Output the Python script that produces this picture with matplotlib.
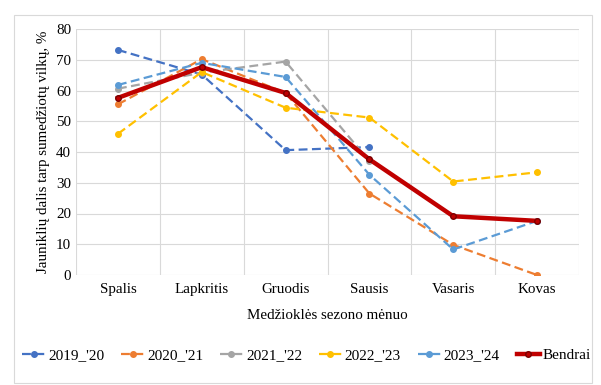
import numpy as np
import matplotlib.pyplot as plt
from matplotlib.patches import Rectangle

months = ["Spalis", "Lapkritis", "Gruodis", "Sausis", "Vasaris", "Kovas"]

s2019 = [73.2, 65.2, 40.6, 41.6, np.nan, np.nan]
s2020 = [55.5, 70.2, 59.2, 26.5, 9.8, 0.0]
s2021 = [60.6, 65.8, 69.4, 37.0, np.nan, np.nan]
s2022 = [45.9, 66.0, 54.4, 51.2, 30.4, 33.4]
s2023 = [61.8, 69.0, 64.4, 32.6, 8.3, 17.6]
bendrai = [57.6, 67.6, 59.2, 37.6, 19.1, 17.6]

series = [("2019_'20", s2019, "#4472C4"),
          ("2020_'21", s2020, "#ED7D31"),
          ("2021_'22", s2021, "#A5A5A5"),
          ("2022_'23", s2022, "#FFC000"),
          ("2023_'24", s2023, "#5B9BD5")]

plt.rcParams['font.family'] = ['Liberation Serif', 'DejaVu Serif']

fig = plt.figure(figsize=(6.01, 3.85), dpi=100)
ax = fig.add_axes([76/601, 1 - 275/385, (579 - 76)/601, (275 - 29)/385])

x = np.arange(len(months))
for name, vals, col in series:
    ax.plot(x, vals, color=col, lw=1.6, dashes=(4, 2), marker='o',
            markersize=4, label=name, zorder=3)
ax.plot(x, bendrai, color="#C00000", lw=3.2, marker='o', markersize=4,
        markeredgecolor="#7a0000", label="Bendrai", zorder=5)

ax.set_xlim(-0.5, len(months) - 0.5)
ax.set_ylim(0, 80)
ax.set_yticks(range(0, 81, 10))
ax.set_xticks(x)
ax.set_xticklabels(months)
ax.set_xticks(np.arange(-0.5, len(months)), minor=True)
ax.grid(True, which='major', axis='y', color='#d9d9d9', lw=0.8)
ax.grid(True, which='minor', axis='x', color='#d9d9d9', lw=0.8)
ax.tick_params(which='both', length=0, labelsize=10.8, colors='black')
ax.tick_params(axis='x', pad=6)
for sp in ax.spines.values():
    sp.set_visible(False)
ax.set_axisbelow(True)

ax.set_ylabel("Jauniklių dalis tarp sumedžiotų vilkų, %", fontsize=10.8)
ax.set_xlabel("Medžioklės sezono mėnuo", fontsize=10.8, labelpad=9)

fig.legend(loc='center', bbox_to_anchor=(0.51, 1 - 355/385), ncol=6,
           frameon=False, fontsize=11, handlelength=1.5, handletextpad=0.2,
           columnspacing=1.1)

fig.patches.append(Rectangle((14/601, 1 - 383/385), 578/601, 368/385,
                             transform=fig.transFigure, fill=False,
                             edgecolor='#d9d9d9', lw=0.8))

fig.savefig("out.png", dpi=100)
